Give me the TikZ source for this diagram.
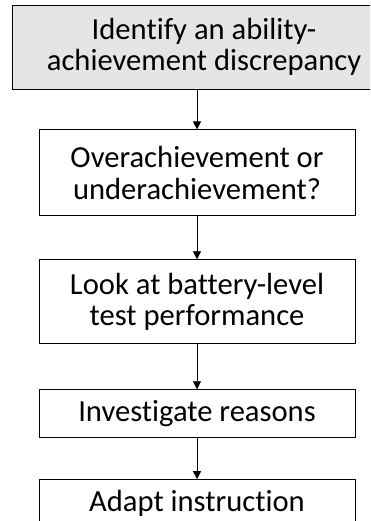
\documentclass[tikz,border=0pt]{standalone}
\usepackage{fontspec}
\setmainfont{Carlito}[Ligatures=NoCommon]
\usetikzlibrary{positioning}
\usetikzlibrary{arrows.meta}
\tikzset{
  stepbox/.style={draw, line width=0.9pt, minimum width=316pt, inner sep=0pt, align=center, font=\fontsize{30.6}{31.5}\selectfont},
  flowarrow/.style={-{Triangle[width=8pt,length=8pt]}, line width=0.7pt},
}

\begin{document}
\begin{tikzpicture}[x=1pt,y=1pt]
  \clip (0,0) rectangle (370,-521);

  \node [stepbox, fill=gray!20, minimum width=384pt, minimum height=84pt] at (204,-47) (identify) {Identify an ability-\\achievement discrepancy};
  \node [stepbox, minimum height=86pt, below=40pt of identify, xshift=-7pt] (overunder) {Overachievement or\\underachievement?};
  \node [stepbox, minimum height=84pt, below=43pt of overunder] (battery) {Look at battery-level\\test performance};
  \node [stepbox, minimum height=48pt, below=45pt of battery] (reasons) {Investigate reasons};
  \node [stepbox, minimum height=48pt, below=41pt of reasons] (adapt) {Adapt instruction};

  \draw [flowarrow] (identify.south -| overunder.north) -- (overunder.north);
  \draw [flowarrow] (overunder) -- (battery);
  \draw [flowarrow] (battery) -- (reasons);
  \draw [flowarrow] (reasons) -- (adapt);

\end{tikzpicture}
\end{document}
